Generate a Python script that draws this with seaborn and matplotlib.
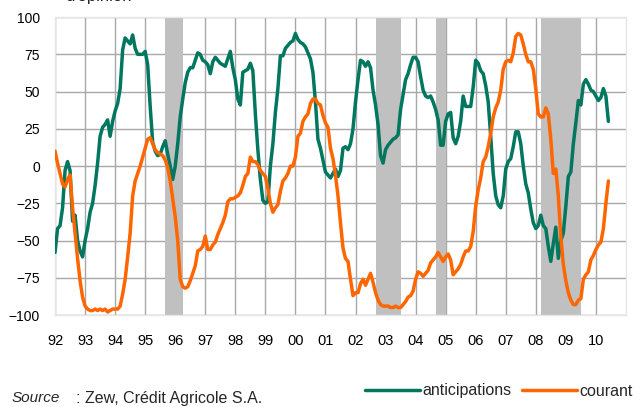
import numpy as np
import pandas as pd
import seaborn as sns
import matplotlib.pyplot as plt

# ZEW, soldes d'opinion mensuels, janv. 1992 - juin 2010
anticipations = [
    -58, -42, -40, -28, -3, 3, -3, -37, -33, -50, -57, -61,      # 92
    -50, -42, -31, -25, -13, 2, 20, 26, 28, 31, 20, 30,           # 93
    37, 42, 52, 78, 86, 84, 82, 88, 79, 75, 75, 75,               # 94
    77, 68, 40, 16, 10, 7, 8, 13, 17, 8, 0, -9,                   # 95
    0, 15, 33, 45, 56, 63, 66, 66, 71, 76, 75, 71,                # 96
    70, 68, 62, 70, 73, 71, 69, 68, 67, 72, 77, 66,               # 97
    58, 45, 41, 63, 64, 65, 69, 64, 35, 11, -9, -23,              # 98
    -25, -24, 0, 15, 36, 52, 74, 74, 79, 81, 83, 84,              # 99
    89, 85, 83, 82, 80, 76, 72, 63, 43, 18, 12, 4,                # 00
    -4, -6, -8, -5, -2, -7, -3, 12, 13, 11, 15, 25,               # 01
    43, 58, 71, 70, 67, 70, 66, 51, 41, 28, 7, 2,                 # 02
    11, 14, 16, 18, 19, 21, 38, 48, 58, 62, 68, 73,               # 03
    73, 70, 60, 51, 47, 46, 47, 43, 38, 31, 14, 14,               # 04
    30, 35, 36, 19, 15, 20, 30, 47, 40, 40, 40, 53,               # 05
    71, 69, 64, 62, 54, 43, 20, -5, -20, -26, -28, -20,           # 06
    -2, 3, 5, 13, 23, 23, 15, 0, -12, -18, -29, -38,              # 07
    -42, -40, -33, -40, -42, -54, -64, -52, -41, -62, -50, -45,   # 08
    -27, -7, -4, 15, 29, 44, 41, 55, 58, 55, 51, 50,              # 09
    47, 44, 46, 52, 47, 30,                                       # 10
]
courant = [
    10, 2, -5, -12, -14, -9, -6, -28, -45, -62, -77, -88,         # 92
    -94, -96, -97, -97, -96, -97, -96, -97, -96, -98, -97, -96,   # 93
    -96, -96, -94, -86, -76, -61, -45, -20, -10, -5, 0, 6,        # 94
    12, 18, 19, 15, 11, 9, 8, 7, 4, -1, -10, -22,                 # 95
    -34, -50, -76, -81, -82, -81, -77, -72, -67, -57, -56, -54,   # 96
    -47, -56, -56, -53, -51, -46, -42, -38, -33, -24, -22, -22,   # 97
    -21, -20, -18, -13, -7, -5, 6, 3, 3, 1, -3, -5,               # 98
    -7, -15, -25, -31, -28, -26, -17, -10, -8, -5, 0, 0,          # 99
    6, 20, 22, 30, 33, 35, 42, 45, 45, 42, 41, 34,                # 00
    29, 26, 12, 5, -6, -20, -38, -55, -62, -64, -76, -87,         # 01
    -85, -85, -79, -76, -80, -76, -72, -78, -85, -90, -93, -94,   # 02
    -94, -94, -95, -95, -94, -95, -95, -93, -91, -88, -87, -84,   # 03
    -76, -71, -72, -74, -72, -70, -65, -63, -61, -58, -61, -64,   # 04
    -61, -59, -63, -73, -71, -69, -66, -61, -57, -57, -54, -44,   # 05
    -27, -16, -8, 3, 6, 13, 22, 33, 39, 43, 51, 65,               # 06
    70, 71, 70, 76, 87, 89, 88, 82, 75, 70, 70, 65,               # 07
    52, 35, 33, 33, 39, 35, 18, -5, -2, -20, -48, -66,            # 08
    -77, -85, -90, -93, -93, -90, -89, -76, -73, -71, -63, -60,   # 09
    -56, -53, -51, -42, -25, -10,                                 # 10
]

# periodes grisees (debut, fin) en annees decimales
recession_start = [1995.67, 2002.67, 2004.67, 2008.17]
recession_end = [1996.25, 2003.50, 2005.00, 2009.50]

years = list(range(1992, 2011))
year_labels = [f"{y % 100:02d}" for y in years]
y_ticks = [-100, -75, -50, -25, 0, 25, 50, 75, 100]

n = len(anticipations)
dates = 1992 + np.arange(n) / 12
df = pd.DataFrame({
    "date": np.concatenate([dates, dates]),
    "solde": anticipations + courant,
    "serie": ["anticipations"] * n + ["courant"] * n,
})

sns.set_theme(style="whitegrid")
plt.rcParams["font.family"] = ["Liberation Sans", "DejaVu Sans"]

fig = plt.figure(figsize=(6.4, 4.07), dpi=100)
ax = fig.add_axes([0.086, 0.226, 0.892, 0.732])

for a, b in zip(recession_start, recession_end):
    ax.axvspan(a, b, color="#c0c0c0", lw=0, zorder=1)

sns.lineplot(data=df, x="date", y="solde", hue="serie",
             palette={"anticipations": "#00775e", "courant": "#ff6600"},
             linewidth=2.5, ax=ax, zorder=3)

ax.set_xlim(1992, 2011)
ax.set_ylim(-100, 100)
ax.set_xticks(years)
ax.set_xticklabels(year_labels)
ax.set_yticks(y_ticks)
ax.set_xlabel("")
ax.set_ylabel("")
ax.set_axisbelow(True)
ax.grid(True, color="#a8a8a8", linewidth=1.0)
ax.tick_params(axis="y", length=0, pad=11, labelsize=10, colors="black")
ax.tick_params(axis="x", length=0, pad=14, labelsize=10.5, colors="black")
for s in ax.spines.values():
    s.set_color("#e6e6e6")
    s.set_linewidth(1.0)

handles, labels = ax.get_legend_handles_labels()
ax.get_legend().remove()
fig.legend(handles, labels, loc="center right", bbox_to_anchor=(0.988, 1 - 391 / 407),
           ncol=2, frameon=False, fontsize=11.5, handlelength=3.4,
           handletextpad=0.15, columnspacing=0.7, borderpad=0, borderaxespad=0)

fig.text(65 / 640, 1 - 1 / 407, "d'opinion", fontsize=12, va="baseline", ha="left")
fig.text(12 / 640, 1 - 398 / 407, "Source", fontsize=11, style="italic", va="center")
fig.text(76 / 640, 1 - 398 / 407, ": Zew, Crédit Agricole S.A.", fontsize=11.5, va="center")

fig.savefig("out.png", dpi=100)
